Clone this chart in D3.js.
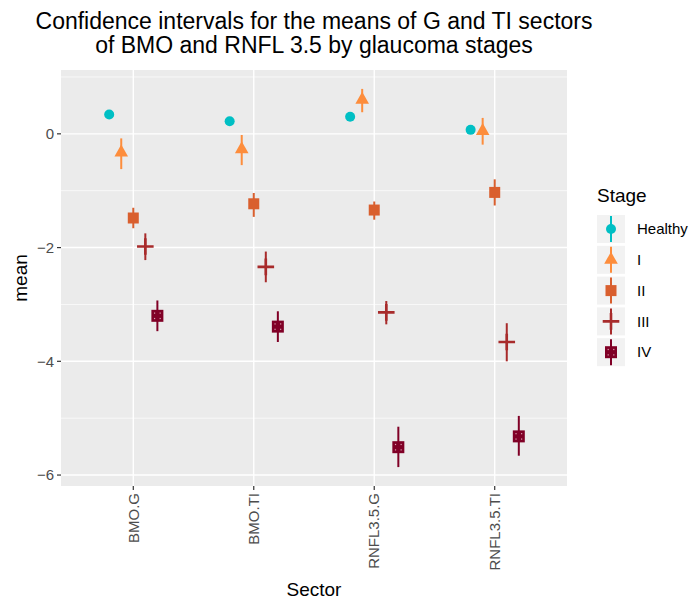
<!DOCTYPE html>
<html>
<head>
<meta charset="utf-8">
<script src="https://cdn.jsdelivr.net/npm/d3@7"></script>
<style>
  body { margin: 0; background: #fff; }
  text { font-family: "Liberation Sans", Arial, Helvetica, sans-serif; }
  .tick-y { fill: #4d4d4d; font-size: 15px; text-anchor: end; }
  .tick-x { fill: #4d4d4d; font-size: 15px; text-anchor: end; }
</style>
</head>
<body>
<svg width="692" height="602"></svg>
<script>
// sectors on the x axis
var sectors = ["BMO.G", "BMO.TI", "RNFL3.5.G", "RNFL3.5.TI"];
var stages = ["Healthy", "I", "II", "III", "IV"];
var colors = ["#00bfc4", "#fd8d3c", "#d95f2e", "#a82b2b", "#800026"];

// means, one value per sector
var meanHealthy = [0.34, 0.22, 0.30, 0.07];
var meanI       = [-0.33, -0.27, 0.60, 0.05];
var meanII      = [-1.48, -1.23, -1.34, -1.03];
var meanIII     = [-1.98, -2.34, -3.14, -3.66];
var meanIV      = [-3.20, -3.39, -5.51, -5.32];

// lower / upper confidence limits
var lowHealthy = [0.28, 0.16, 0.24, 0.01];
var lowI       = [-0.62, -0.55, 0.38, -0.19];
var lowII      = [-1.66, -1.46, -1.51, -1.26];
var lowIII     = [-2.22, -2.61, -3.35, -4.00];
var lowIV      = [-3.47, -3.66, -5.86, -5.66];

var upHealthy = [0.40, 0.28, 0.36, 0.13];
var upI       = [-0.08, -0.02, 0.79, 0.28];
var upII      = [-1.30, -1.04, -1.19, -0.80];
var upIII     = [-1.75, -2.07, -2.94, -3.33];
var upIV      = [-2.93, -3.12, -5.15, -4.96];

var yTicks = [0, -2, -4, -6];

var means = [meanHealthy, meanI, meanII, meanIII, meanIV];
var lows = [lowHealthy, lowI, lowII, lowIII, lowIV];
var ups = [upHealthy, upI, upII, upIII, upIV];

var rows = [];
stages.forEach(function(s, i) {
  sectors.forEach(function(sec, j) {
    rows.push({stage: s, si: i, sector: sec, mean: means[i][j], lo: lows[i][j], hi: ups[i][j]});
  });
});

var svg = d3.select("svg");
var pLeft = 61, pRight = 567, pTop = 70, pBottom = 486;

var x = d3.scalePoint().domain(sectors).range([pLeft, pRight]).padding(0.6);
var lo = d3.min(rows, function(d) { return d.lo; });
var hi = d3.max(rows, function(d) { return d.hi; });
var pad = (hi - lo) * 0.05;
var y = d3.scaleLinear().domain([lo - pad, hi + pad]).range([pBottom, pTop]);
var dodge = x.step() * 0.1;

// panel
svg.append("rect").attr("x", pLeft).attr("y", pTop)
  .attr("width", pRight - pLeft).attr("height", pBottom - pTop).attr("fill", "#ebebeb");

var minor = d3.range(Math.ceil(y.domain()[0]), Math.floor(y.domain()[1]) + 1)
  .filter(function(v) { return v % 2 !== 0; });
svg.selectAll(".minor").data(minor).enter().append("line")
  .attr("x1", pLeft).attr("x2", pRight)
  .attr("y1", function(d) { return y(d); }).attr("y2", function(d) { return y(d); })
  .attr("stroke", "#fff").attr("stroke-width", 0.7);
svg.selectAll(".major").data(yTicks).enter().append("line")
  .attr("x1", pLeft).attr("x2", pRight)
  .attr("y1", function(d) { return y(d); }).attr("y2", function(d) { return y(d); })
  .attr("stroke", "#fff").attr("stroke-width", 1.4);
svg.selectAll(".vgrid").data(sectors).enter().append("line")
  .attr("y1", pTop).attr("y2", pBottom)
  .attr("x1", function(d) { return x(d); }).attr("x2", function(d) { return x(d); })
  .attr("stroke", "#fff").attr("stroke-width", 1.4);

// axes ticks and labels
svg.selectAll(".yt").data(yTicks).enter().append("line")
  .attr("x1", pLeft - 4).attr("x2", pLeft)
  .attr("y1", function(d) { return y(d); }).attr("y2", function(d) { return y(d); })
  .attr("stroke", "#333").attr("stroke-width", 1.2);
svg.selectAll(".ytl").data(yTicks).enter().append("text")
  .attr("class", "tick-y")
  .attr("x", pLeft - 7).attr("y", function(d) { return y(d); }).attr("dy", "0.35em")
  .text(function(d) { return d < 0 ? "\u2212" + Math.abs(d) : d; });
svg.selectAll(".xt").data(sectors).enter().append("line")
  .attr("x1", function(d) { return x(d); }).attr("x2", function(d) { return x(d); })
  .attr("y1", pBottom).attr("y2", pBottom + 4)
  .attr("stroke", "#333").attr("stroke-width", 1.2);
svg.selectAll(".xtl").data(sectors).enter().append("text")
  .attr("class", "tick-x")
  .attr("transform", function(d) { return "translate(" + x(d) + "," + (pBottom + 7) + ") rotate(-90)"; })
  .attr("dy", "0.35em")
  .text(function(d) { return d; });

// titles
svg.append("text").attr("x", (pLeft + pRight) / 2).attr("y", 29)
  .attr("text-anchor", "middle").attr("font-size", 23)
  .text("Confidence intervals for the means of G and TI sectors");
svg.append("text").attr("x", (pLeft + pRight) / 2).attr("y", 53)
  .attr("text-anchor", "middle").attr("font-size", 23)
  .text("of BMO and RNFL 3.5 by glaucoma stages");
svg.append("text").attr("x", (pLeft + pRight) / 2).attr("y", 596)
  .attr("text-anchor", "middle").attr("font-size", 19).text("Sector");
svg.append("text").attr("transform", "translate(27," + (pTop + pBottom) / 2 + ") rotate(-90)")
  .attr("text-anchor", "middle").attr("font-size", 19).text("mean");

// point shapes
function drawShape(g, si, col) {
  if (si === 0) {
    g.append("circle").attr("r", 5).attr("fill", col);
  } else if (si === 1) {
    g.append("path").attr("d", "M0,-8L6.8,4L-6.8,4Z").attr("fill", col);
  } else if (si === 2) {
    g.append("rect").attr("x", -5.5).attr("y", -5.5).attr("width", 11).attr("height", 11).attr("fill", col);
  } else if (si === 3) {
    g.append("path").attr("d", "M-8.3,0H8.3M0,-8.3V8.3").attr("stroke", col).attr("stroke-width", 2.6);
  } else {
    g.append("rect").attr("x", -6).attr("y", -6).attr("width", 12).attr("height", 12).attr("fill", col);
    [[-2.8, -2.7], [2.8, -2.7], [-2.8, 2.7], [2.8, 2.7]].forEach(function(p) {
      g.append("rect").attr("x", p[0] - 0.6).attr("y", p[1] - 0.6)
        .attr("width", 1.2).attr("height", 1.2).attr("fill", "#d9a0b0");
    });
  }
}

var marks = svg.selectAll(".mark").data(rows).enter().append("g")
  .attr("transform", function(d) { return "translate(" + (x(d.sector) + (d.si - 2) * dodge) + ",0)"; });
marks.append("line")
  .attr("y1", function(d) { return y(d.lo); }).attr("y2", function(d) { return y(d.hi); })
  .attr("stroke", function(d) { return colors[d.si]; }).attr("stroke-width", 2);
marks.each(function(d) {
  var g = d3.select(this).append("g").attr("transform", "translate(0," + y(d.mean) + ")");
  drawShape(g, d.si, colors[d.si]);
});

// legend
var lg = svg.append("g").attr("transform", "translate(597,0)");
lg.append("text").attr("x", 0).attr("y", 202).attr("font-size", 19).text("Stage");
stages.forEach(function(s, i) {
  var cy = 229 + i * 30.8;
  var k = lg.append("g").attr("transform", "translate(14," + cy + ")");
  k.append("rect").attr("x", -14).attr("y", -14).attr("width", 28).attr("height", 28).attr("fill", "#f2f2f2");
  k.append("line").attr("y1", -13).attr("y2", 13).attr("stroke", colors[i]).attr("stroke-width", 2);
  drawShape(k, i, colors[i]);
  lg.append("text").attr("x", 40).attr("y", cy).attr("dy", "0.35em").attr("font-size", 15).text(s);
});
</script>
</body>
</html>
